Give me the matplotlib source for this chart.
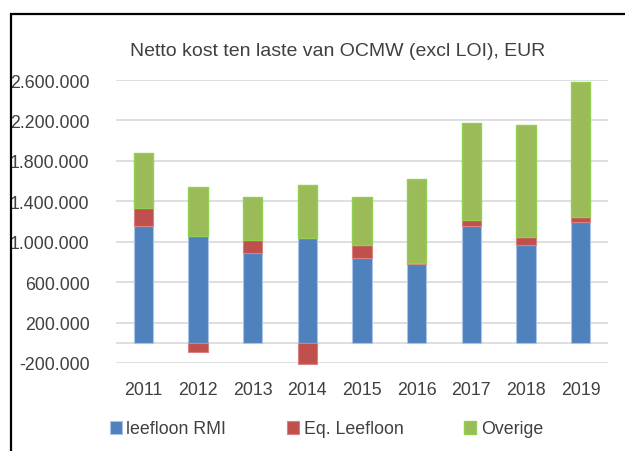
import numpy as np
import matplotlib
matplotlib.use('Agg')
import matplotlib.pyplot as plt
from matplotlib.patches import Rectangle

plt.rcParams['font.family'] = ['Liberation Sans', 'DejaVu Sans']

years = ['2011', '2012', '2013', '2014', '2015', '2016', '2017', '2018', '2019']
leefloon_rmi = [1158000, 1060000, 891000, 1037000, 836000, 780000, 1153000, 971000, 1198000]
eq_leefloon = [175000, -94000, 129000, -208000, 129000, 13000, 62000, 73000, 50000]
overige = [545000, 479000, 420000, 524000, 478000, 828000, 960000, 1108000, 1336000]

yticks = [-200000, 200000, 600000, 1000000, 1400000, 1800000, 2200000, 2600000]

txt = '#404040'

fig = plt.figure(figsize=(6.25, 4.52), dpi=100)
ax = fig.add_axes([116/625, 1-364/452, 492/625, 283/452])

x = np.arange(len(years))
blue = np.array(leefloon_rmi)
red = np.array(eq_leefloon)
green = np.array(overige)

# stacking like excel: positives on top of positives, negatives below zero
red_bottom = np.where(red >= 0, blue, 0)
green_bottom = blue + np.where(red > 0, red, 0)

w = 0.35
ax.bar(x, blue, w, color='#4F81BD', edgecolor='#A9C4E8', linewidth=0.8,
       label='leefloon RMI', zorder=3, clip_on=False)
ax.bar(x, red, w, bottom=red_bottom, color='#C0504D', edgecolor='#D9827F', linewidth=0.8,
       label='Eq. Leefloon', zorder=3, clip_on=False)
ax.bar(x, green, w, bottom=green_bottom, color='#9BBB59', edgecolor='#92D050', linewidth=1.0,
       label='Overige', zorder=3, clip_on=False)

ax.set_xlim(-0.5, len(years) - 0.5)
ax.set_ylim(-200000, 2600000)
ax.set_yticks(yticks)
ax.set_yticklabels([f'{v:,}'.replace(',', '.') for v in yticks], fontsize=12.8, color=txt)
ax.set_xticks(x)
ax.set_xticklabels(years, fontsize=12.8, color=txt)
ax.tick_params(length=0)
ax.tick_params(axis='x', pad=13)
ax.tick_params(axis='y', pad=19)
ax.grid(axis='y', color='#D9D9D9', linewidth=1.2, zorder=0)
ax.axhline(0, color='#D9D9D9', linewidth=1.2, zorder=1)
for s in ax.spines.values():
    s.set_visible(False)

fig.text(0.54, 1-51/452, 'Netto kost ten laste van OCMW (excl LOI), EUR',
         ha='center', va='center', fontsize=14, color=txt)

fig.legend(loc='center', bbox_to_anchor=(0.522, 1-430/452), ncol=3, frameon=False,
           fontsize=12.8, handlelength=0.7, handleheight=0.7, handletextpad=0.25,
           columnspacing=3.4, labelcolor=txt)

# outer frame (cut off at right and bottom)
fig.patches.append(Rectangle((11/625, -0.1), 1.2, 0.1 + 1-15/452, transform=fig.transFigure,
                             fill=False, edgecolor='black', linewidth=1.6))

fig.savefig('out.png', dpi=100)
